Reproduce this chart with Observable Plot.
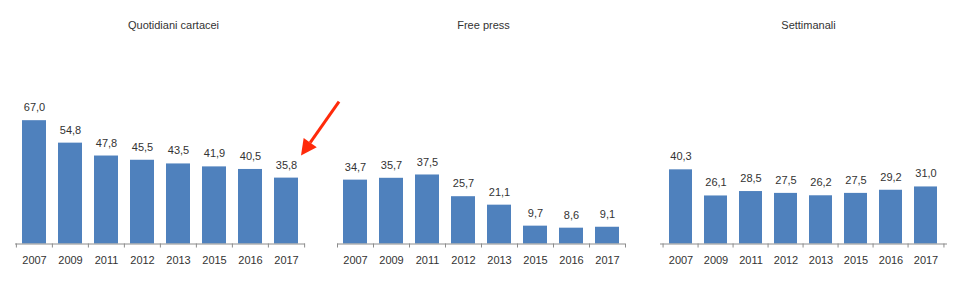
<!DOCTYPE html>
<html><head><meta charset="utf-8">
<script src="https://cdn.jsdelivr.net/npm/d3@7"></script>
<script src="https://cdn.jsdelivr.net/npm/@observablehq/plot@0.6"></script>
<style>
body{margin:0;background:#fff;}
#wrap{position:relative;width:960px;height:281px;overflow:hidden;}
#wrap svg{position:absolute;top:0;overflow:visible;}
</style></head><body><div id="wrap"></div>
<script>
const years = ["2007","2009","2011","2012","2013","2015","2016","2017"];
const titles = ["Quotidiani cartacei","Free press","Settimanali"];
const quotidiani = [67.0,54.8,47.8,45.5,43.5,41.9,40.5,35.8];
const freePress = [34.7,35.7,37.5,25.7,21.1,9.7,8.6,9.1];
const settimanali = [40.3,26.1,28.5,27.5,26.2,27.5,29.2,31.0];
const series = [quotidiani, freePress, settimanali];
const highlight = {panel: 0, year: "2017"};

const panels = [
  {left: 0, ml: 15, mr: 15, titleDx: 13},
  {left: 320, ml: 17, mr: 15, titleDx: 2},
  {left: 640, ml: 20, mr: 13, titleDx: 4.5}
];
const W = 320, H = 281, MT = 30, MB = 37.5;
const textColor = "#333333", axisColor = "#8c8c8c", barColor = "#4F81BD";
const fmt = v => v.toFixed(1).replace(".", ",");
const wrap = document.getElementById("wrap");

panels.forEach((p, i) => {
  const data = years.map((y, j) => ({year: y, value: series[i][j]}));
  const step = (W - p.ml - p.mr) / years.length;
  const plot = Plot.plot({
    width: W, height: H,
    marginLeft: p.ml, marginRight: p.mr, marginTop: MT, marginBottom: MB,
    x: {domain: years, paddingInner: 0.34, paddingOuter: 0.17, axis: null},
    y: {domain: [0, 116], axis: null},
    style: {fontFamily: "'Liberation Sans', Arial, sans-serif", fontSize: "11px", color: textColor, background: "transparent"},
    marks: [
      Plot.barY(data, {x: "year", y: "value", fill: barColor}),
      Plot.ruleY([0], {stroke: axisColor}),
      Plot.ruleX(years, {x: d => d, y1: 0, y2: 0, insetBottom: -4, dx: -step / 2, stroke: axisColor}),
      Plot.ruleX([years[years.length - 1]], {x: d => d, y1: 0, y2: 0, insetBottom: -4, dx: step / 2, stroke: axisColor}),
      Plot.axisX({tickSize: 0, tickPadding: 12, label: null, fill: textColor, fontSize: 11}),
      Plot.text(data, {x: "year", y: "value", text: d => fmt(d.value), dy: -13, fill: textColor, fontSize: 11}),
      Plot.text([titles[i]], {frameAnchor: "top", dy: -9, dx: p.titleDx, fill: textColor, fontSize: 11})
    ]
  });
  plot.style.left = p.left + "px";
  wrap.appendChild(plot);

  if (i === highlight.panel) {
    const sx = plot.scale("x"), sy = plot.scale("y");
    const val = series[i][years.indexOf(highlight.year)];
    const tx = sx.apply(highlight.year) + sx.bandwidth + 3;
    const ty = sy.apply(val) - 22;
    const ux = tx + 38, uy = ty - 54;
    const ang = Math.atan2(ty - uy, tx - ux);
    const hl = 16, hw = 8;
    const bx = tx - hl * Math.cos(ang), by = ty - hl * Math.sin(ang);
    const px = -Math.sin(ang) * hw, py = Math.cos(ang) * hw;
    const g = d3.select(plot).append("g");
    g.append("line").attr("x1", ux).attr("y1", uy).attr("x2", bx).attr("y2", by)
      .attr("stroke", "#FF2A0A").attr("stroke-width", 3);
    g.append("polygon")
      .attr("points", `${tx},${ty} ${bx + px},${by + py} ${bx - px},${by - py}`)
      .attr("fill", "#FF2A0A");
  }
});
</script></body></html>
